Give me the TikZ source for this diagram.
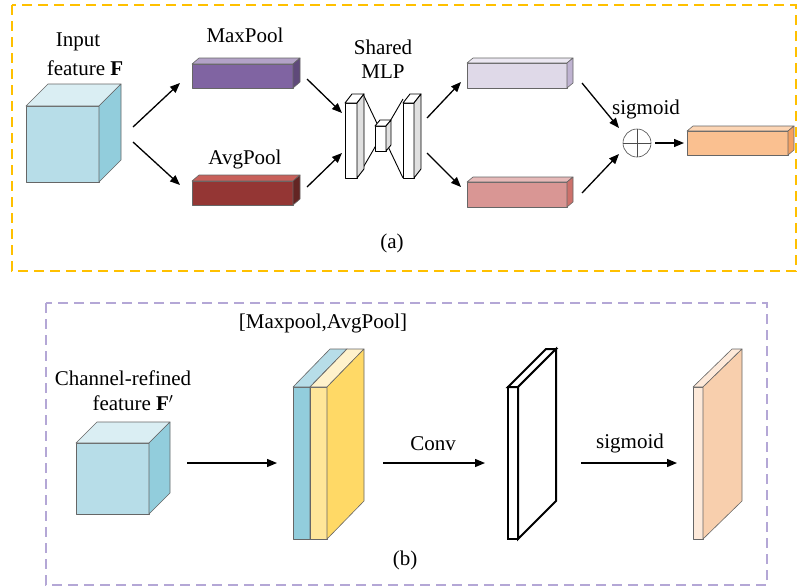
\documentclass[tikz,border=0pt]{standalone}
\usepackage{fontspec}
\setmainfont{Liberation Serif}
\usetikzlibrary{arrows.meta}
\definecolor{cubeF}{HTML}{B7DDE8}\definecolor{cubeT}{HTML}{DAEEF3}\definecolor{cubeS}{HTML}{92CDDC}
\definecolor{maxF}{HTML}{8064A2}\definecolor{maxT}{HTML}{B3A2C7}\definecolor{maxS}{HTML}{5F497A}
\definecolor{avgF}{HTML}{943634}\definecolor{avgT}{HTML}{C8605A}\definecolor{avgS}{HTML}{632523}
\definecolor{lpF}{HTML}{DFD9E8}\definecolor{lpT}{HTML}{ECE8F2}\definecolor{lpS}{HTML}{BFB3D1}
\definecolor{pkF}{HTML}{D99694}\definecolor{pkT}{HTML}{E6B9B8}\definecolor{pkS}{HTML}{CD716B}
\definecolor{orF}{HTML}{FAC090}\definecolor{orT}{HTML}{FCD5B4}\definecolor{orS}{HTML}{F4A060}
\definecolor{yeF}{HTML}{FFE699}\definecolor{yeT}{HTML}{FFF2CC}\definecolor{yeS}{HTML}{FFD966}
\definecolor{peF}{HTML}{FDE9D9}\definecolor{peS}{HTML}{F8CFAD}
\definecolor{borderA}{HTML}{FFC000}\definecolor{borderB}{HTML}{B4A7D6}
\newcommand{\mycuboid}[9]{%
  \path[cubeedge,fill=#7] (#1,#2) rectangle (#3,#4);
  \path[cubeedge,fill=#8] (#1,#2) -- (#1+#5,#2-#6) -- (#3+#5,#2-#6) -- (#3,#2) -- cycle;
  \path[cubeedge,fill=#9] (#3,#2) -- (#3+#5,#2-#6) -- (#3+#5,#4-#6) -- (#3,#4) -- cycle;
}
\begin{document}
\begin{tikzpicture}[x=1pt,y=-1pt,
  font=\fontsize{21}{25}\selectfont,
  cubeedge/.style={draw=black!60,line width=0.6pt,line join=round},
  arr/.style={-{Triangle[length=10pt,width=8pt]},line width=1.3pt},
  lbl/.style={inner sep=0pt}]
\useasboundingbox (0,0) rectangle (799,587);
% borders
\draw[borderA,line width=1.8pt,dash pattern=on 10pt off 6pt] (12,5) rectangle (796,271);
\draw[borderB,line width=1.4pt,dash pattern=on 10pt off 6pt] (46,303) rectangle (767,585);
% ----- panel (a)
\mycuboid{26}{106}{99}{182}{22}{22}{cubeF}{cubeT}{cubeS}
\node[lbl] (tin) at (78,42) {Input};
\node[lbl] (tfeat) at (85,68) {feature \textbf{F}};
\mycuboid{192}{64}{293}{88}{7}{6}{maxF}{maxT}{maxS}
\node[lbl] (tmax) at (245,35) {MaxPool};
\mycuboid{192}{181}{293}{205}{7}{6}{avgF}{avgT}{avgS}
\node[lbl] (tavg) at (245,159) {AvgPool};
% MLP
\begin{scope}[cubeedge/.style={draw=black,line width=0.9pt,line join=round}]
\draw[line width=0.9pt] (363,94) -- (403,178) (357,178) -- (403,99);
\mycuboid{345}{103}{357}{178}{7}{9}{white}{white}{black!12}
\mycuboid{403}{103}{414}{178}{7}{9}{white}{white}{black!12}
\mycuboid{375}{126}{386}{151}{5}{6}{white}{white}{black!12}
\end{scope}
\node[lbl] (tshared) at (383,47) {Shared};
\node[lbl] (tmlp) at (383,72) {MLP};
\mycuboid{467}{63}{567}{88}{6}{5}{lpF}{lpT}{lpS}
\mycuboid{467}{182}{567}{207}{6}{5}{pkF}{pkT}{pkS}
\node[circle,draw=black!70,line width=0.6pt,minimum size=28pt,inner sep=0pt] (plus) at (637,143) {};
\draw[black!70,line width=0.6pt] (plus.north) -- (plus.south) (plus.west) -- (plus.east);
\node[lbl] (tsig) at (646,109) {sigmoid};
\mycuboid{687}{131}{788}{155}{6}{5}{orF}{orT}{orS}
\node[lbl] (ta) at (392,243) {(a)};
% arrows (a)
\coordinate (c1) at (133,127); \coordinate (c2) at (180,83);
\coordinate (c3) at (133,142); \coordinate (c4) at (180,185);
\coordinate (c5) at (307,79);  \coordinate (c6) at (342,113);
\coordinate (c7) at (307,187); \coordinate (c8) at (342,153);
\coordinate (c9) at (427,118); \coordinate (c10) at (461,82);
\coordinate (c11) at (427,153); \coordinate (c12) at (461,187);
\coordinate (c13) at (582,83); \coordinate (c14) at (619,128);
\coordinate (c15) at (582,193); \coordinate (c16) at (619,154);
\coordinate (c17) at (655,143); \coordinate (c18) at (684,143);
\draw[arr] (c1) -- (c2);
\draw[arr] (c3) -- (c4);
\draw[arr] (c5) -- (c6);
\draw[arr] (c7) -- (c8);
\draw[arr] (c9) -- (c10);
\draw[arr] (c11) -- (c12);
\draw[arr] (c13) -- (c14);
\draw[arr] (c15) -- (c16);
\draw[arr] (c17) -- (c18);
% ----- panel (b)
\node[lbl] (tmp) at (323,323) {[Maxpool,AvgPool]};
\node[lbl] (tch) at (123,378) {Channel-refined};
\node[lbl] (tfeat2) at (133,403) {feature \textbf{F}$'$};
\mycuboid{76}{443}{149}{514}{21}{21}{cubeF}{cubeT}{cubeS}
\mycuboid{293}{387}{310}{539}{37}{38}{cubeS}{cubeF}{cubeS}
\mycuboid{310}{387}{327}{539}{37}{38}{yeF}{yeT}{yeS}
\begin{scope}[cubeedge/.style={draw=black,line width=2pt,line join=miter}]
\mycuboid{508}{387}{518}{539}{38}{38}{white}{white}{white}
\end{scope}
\mycuboid{693}{387}{703}{539}{39}{38}{peF}{peF}{peS}
\node[lbl] (tconv) at (433,444) {Conv};
\node[lbl] (tsig2) at (630,443) {sigmoid};
\node[lbl] (tb) at (405,560) {(b)};
\coordinate (d1) at (187,463); \coordinate (d2) at (277,463);
\coordinate (d3) at (383,463); \coordinate (d4) at (485,463);
\coordinate (d5) at (581,463); \coordinate (d6) at (677,463);
\draw[arr] (d1) -- (d2);
\draw[arr] (d3) -- (d4);
\draw[arr] (d5) -- (d6);
\end{tikzpicture}
\end{document}
